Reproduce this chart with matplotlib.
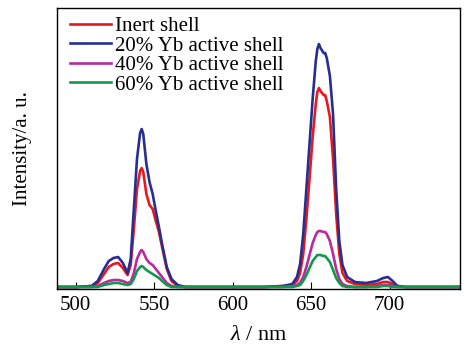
import matplotlib
matplotlib.use('Agg')
import matplotlib.pyplot as plt

plt.rcParams['font.family'] = ['Liberation Serif', 'DejaVu Serif']
plt.rcParams['mathtext.fontset'] = 'custom'
plt.rcParams['mathtext.it'] = 'Liberation Serif:italic'
plt.rcParams['mathtext.rm'] = 'Liberation Serif'

# wavelength (nm), shared by all spectra
wl = [488, 500, 510, 514, 518, 521, 524, 527, 530, 533, 535, 537, 539, 541, 542,
      543, 545, 547, 549, 551, 553, 555, 558, 561, 565, 570, 580, 600, 620, 632,
      638, 641, 643, 645, 647, 649, 651, 653, 654, 655, 656, 658, 659, 660, 662,
      664, 666, 668, 670, 673, 678, 685, 692, 696, 699, 702, 705, 710, 720, 745]

# intensity (arb. units)
inert = [2, 2, 3, 6, 15, 22, 25, 26, 21, 14, 24, 60, 100, 118, 121,
         117, 95, 84, 80, 68, 57, 42, 20, 8, 3, 2, 2, 2, 2, 3,
         4, 8, 16, 35, 70, 110, 152, 185, 197, 201, 198, 194, 194, 188, 172,
         130, 75, 35, 16, 8, 5, 4, 5, 7, 7, 5, 3, 2, 2, 2]
yb20 = [2, 2, 3, 8, 20, 28, 31, 32, 26, 16, 30, 80, 130, 156, 160,
        155, 125, 107, 95, 78, 62, 45, 22, 10, 4, 2, 2, 2, 2, 3,
        5, 12, 25, 55, 100, 145, 190, 228, 240, 245, 241, 236, 236, 231, 213,
        175, 100, 48, 24, 12, 7, 6, 8, 11, 12, 8, 3, 2, 2, 2]
yb40 = [2, 2, 2, 3, 6, 8, 9, 9, 8, 6, 7, 16, 30, 37, 39,
        37, 30, 26, 24, 20, 16, 12, 6, 3, 2, 2, 2, 2, 2, 2,
        3, 4, 6, 12, 22, 34, 46, 54, 57, 58, 58, 57, 57, 55, 48,
        35, 20, 10, 5, 3, 2, 2, 3, 4, 4, 3, 2, 2, 2, 2]
yb60 = [2, 2, 2, 2, 4, 5, 6, 6, 5, 4, 5, 10, 18, 22, 23,
        22, 19, 17, 15, 13, 11, 8, 4, 2, 2, 2, 2, 2, 2, 2,
        2, 3, 4, 8, 14, 21, 28, 32, 34, 34, 34, 33, 33, 31, 27,
        19, 11, 6, 3, 2, 2, 2, 2, 3, 3, 2, 2, 2, 2, 2]

labels = ['Inert shell', '20% Yb active shell', '40% Yb active shell', '60% Yb active shell']
colors = ['#e8191e', '#262f91', '#b82a9e', '#13994c']
series = [inert, yb20, yb40, yb60]
xticks = [500, 550, 600, 650, 700]

fig = plt.figure(figsize=(4.69, 3.48), dpi=100)
ax = fig.add_axes([0.1215, 0.1695, 0.8595, 0.8075])

for s, c, lab in zip(series, colors, labels):
    ax.plot(wl, s, color=c, lw=1.9, label=lab)

ax.set_xlim(488, 745)
ax.set_ylim(0, 281)
ax.set_xticks(xticks)
ax.set_yticks([])
ax.tick_params(axis='x', direction='in', length=5, labelsize=15, pad=5)
for sp in ax.spines.values():
    sp.set_linewidth(1.0)

ax.set_xlabel(r'$\lambda$ / nm', fontsize=16, labelpad=8)
ax.set_ylabel('Intensity/a. u.', fontsize=15, labelpad=18)

leg = ax.legend(loc='upper left', frameon=False, fontsize=15, labelspacing=0.0,
                handlelength=1.95, handletextpad=0.2, borderaxespad=0.0,
                bbox_to_anchor=(0.012, 1.0))

fig.savefig('out.png', dpi=100)
